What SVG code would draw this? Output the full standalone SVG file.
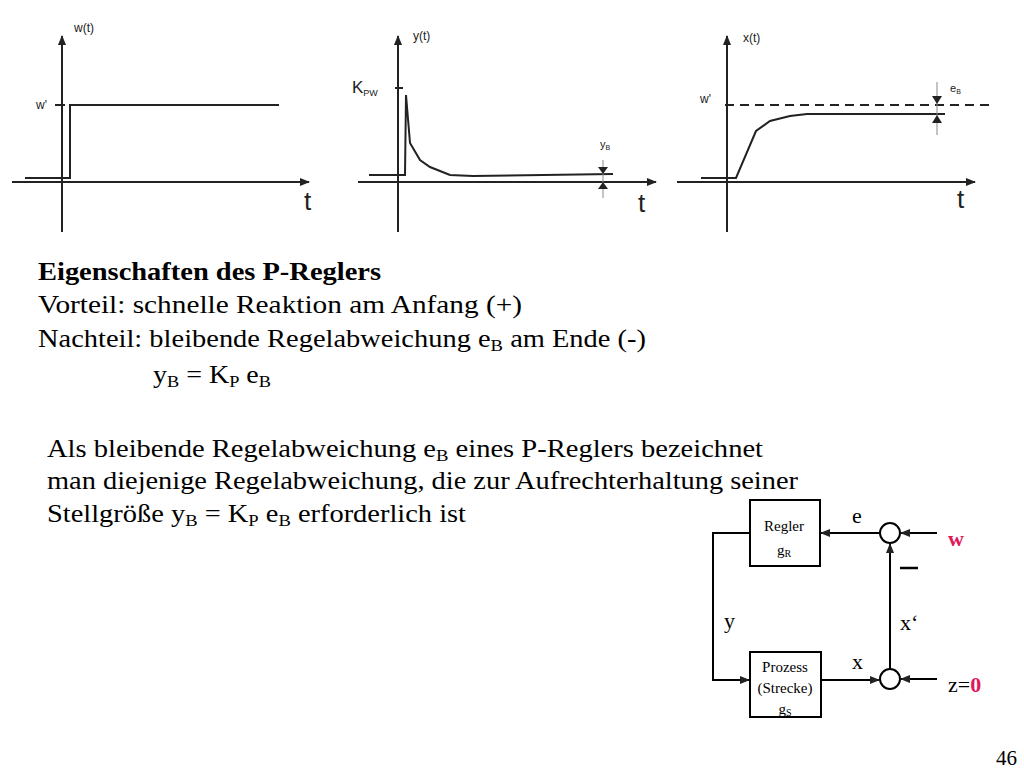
<svg xmlns="http://www.w3.org/2000/svg" width="1024" height="768" viewBox="0 0 1024 768">
<style>
.ax{stroke:#222;stroke-width:2;fill:none}
.cv{stroke:#222;stroke-width:2;fill:none}
.s{font-family:"Liberation Sans",Arial,sans-serif;fill:#222}
.r{font-family:"Liberation Serif","Times New Roman",serif;fill:#000}
.ln{stroke:#000;stroke-width:2;fill:none}
</style>
<defs>
<marker id="a" markerWidth="10" markerHeight="8" refX="9" refY="4" orient="auto" markerUnits="userSpaceOnUse"><path d="M0,0L10,4L0,8z" fill="#222"/></marker>
</defs>
<rect width="1024" height="768" fill="#fff"/>
<g id="plot1">
<line class="ax" x1="62" y1="232" x2="62" y2="36" marker-end="url(#a)"/>
<line class="ax" x1="12" y1="182" x2="309" y2="182" marker-end="url(#a)"/>
<polyline class="cv" points="25,178 70,178 70,105 279,105"/>
<line class="ax" x1="55" y1="105" x2="65" y2="105"/>
<text class="s" x="74" y="32" font-size="12">w(t)</text>
<text class="s" x="36" y="109" font-size="12">w'</text>
<text class="s" x="304" y="210" font-size="26">t</text>
</g>
<g id="plot2">
<line class="ax" x1="398" y1="232" x2="398" y2="36" marker-end="url(#a)"/>
<line class="ax" x1="358" y1="182" x2="656" y2="182" marker-end="url(#a)"/>
<polyline class="cv" points="369,175 405,175 406,95 410,143 420,160 430,167 450,175 473,176 613,174"/>
<line class="ax" x1="395" y1="88" x2="403" y2="88"/>
<line x1="603" y1="160" x2="603" y2="198" stroke="#888" stroke-width="1"/>
<path d="M598,167L608,167L603,174z M598,189L608,189L603,182z" fill="#222"/>
<text class="s" x="413" y="40" font-size="12">y(t)</text>
<text class="s" x="352" y="93" font-size="17">K<tspan font-size="9" dy="3">PW</tspan></text>
<text class="s" x="600" y="148" font-size="11">y<tspan font-size="7" dy="2">B</tspan></text>
<text class="s" x="638" y="212" font-size="26">t</text>
</g>
<g id="plot3">
<line class="ax" x1="727" y1="232" x2="727" y2="36" marker-end="url(#a)"/>
<line class="ax" x1="677" y1="182" x2="975" y2="182" marker-end="url(#a)"/>
<line x1="725" y1="105" x2="990" y2="105" stroke="#222" stroke-width="2" stroke-dasharray="9,6"/>
<polyline class="cv" points="701,178 736,178 756,131 770,121 790,116 807,114 945,114"/>
<line x1="937" y1="82" x2="937" y2="135" stroke="#888" stroke-width="1"/>
<path d="M932,96L942,96L937,104z M932,123L942,123L937,115z" fill="#222"/>
<text class="s" x="743" y="42" font-size="12">x(t)</text>
<text class="s" x="700" y="103" font-size="12">w'</text>
<text class="s" x="950" y="92" font-size="11">e<tspan font-size="7" dy="2">B</tspan></text>
<text class="s" x="957" y="208" font-size="26">t</text>
</g>
<g id="text" class="r" font-size="26">
<text x="38" y="280" font-weight="bold" textLength="343" lengthAdjust="spacingAndGlyphs">Eigenschaften des P-Reglers</text>
<text x="38" y="313" textLength="484" lengthAdjust="spacingAndGlyphs">Vorteil: schnelle Reaktion am Anfang (+)</text>
<text x="38" y="347" textLength="608" lengthAdjust="spacingAndGlyphs">Nachteil: bleibende Regelabweichung e<tspan font-size="17" dy="4">B</tspan><tspan dy="-4"> am Ende (-)</tspan></text>
<text x="153" y="383" textLength="118" lengthAdjust="spacingAndGlyphs">y<tspan font-size="17" dy="4">B</tspan><tspan dy="-4"> = K</tspan><tspan font-size="17" dy="4">P</tspan><tspan dy="-4"> e</tspan><tspan font-size="17" dy="4">B</tspan></text>
<text x="47" y="457" textLength="716" lengthAdjust="spacingAndGlyphs">Als bleibende Regelabweichung e<tspan font-size="17" dy="4">B</tspan><tspan dy="-4">  eines P-Reglers bezeichnet</tspan></text>
<text x="47" y="489" textLength="751" lengthAdjust="spacingAndGlyphs">man diejenige Regelabweichung, die zur Aufrechterhaltung seiner</text>
<text x="47" y="522" textLength="419" lengthAdjust="spacingAndGlyphs">Stellgröße y<tspan font-size="17" dy="4">B</tspan><tspan dy="-4"> = K</tspan><tspan font-size="17" dy="4">P</tspan><tspan dy="-4"> e</tspan><tspan font-size="17" dy="4">B</tspan><tspan dy="-4"> erforderlich ist</tspan></text>
<text x="1017" y="765" text-anchor="end" font-size="21">46</text>
</g>
<g id="regler">
<rect x="750" y="500" width="70" height="66" class="ln"/>
<text class="r" x="784" y="531" font-size="15" text-anchor="middle">Regler</text>
<text class="r" x="784" y="555" font-size="15" text-anchor="middle">g<tspan font-size="10" dy="2">R</tspan></text>
</g>
<g id="prozess">
<rect x="750" y="652" width="71" height="65" class="ln"/>
<text class="r" x="785" y="672" font-size="15" text-anchor="middle">Prozess</text>
<text class="r" x="785" y="693" font-size="15" text-anchor="middle">(Strecke)</text>
<text class="r" x="785" y="714" font-size="15" text-anchor="middle">g<tspan font-size="10" dy="2">S</tspan></text>
</g>
<g id="sum1"><circle cx="890" cy="533" r="10" class="ln"/></g>
<g id="sum2"><circle cx="890" cy="679" r="10" class="ln"/></g>
<g id="connectors" class="ln">
<line x1="937" y1="533" x2="901" y2="533" marker-end="url(#a)"/>
<line x1="880" y1="533" x2="821" y2="533" marker-end="url(#a)"/>
<polyline points="750,533 713,533 713,680 749,680" marker-end="url(#a)"/>
<line x1="821" y1="680" x2="879" y2="680" marker-end="url(#a)"/>
<line x1="937" y1="679" x2="901" y2="679" marker-end="url(#a)"/>
<line x1="890" y1="669" x2="890" y2="544" marker-end="url(#a)"/>
</g>
<line x1="900" y1="568" x2="918" y2="568" stroke="#000" stroke-width="2.5"/>
<g id="labels" class="r" font-size="22">
<text x="852" y="523">e</text>
<text x="948" y="546" fill="#e0185a" font-weight="bold">w</text>
<text x="724" y="628">y</text>
<text x="900" y="630">x‘</text>
<text x="852" y="669">x</text>
<text x="948" y="692">z=<tspan fill="#e0185a" font-weight="bold">0</tspan></text>
</g>
</svg>
